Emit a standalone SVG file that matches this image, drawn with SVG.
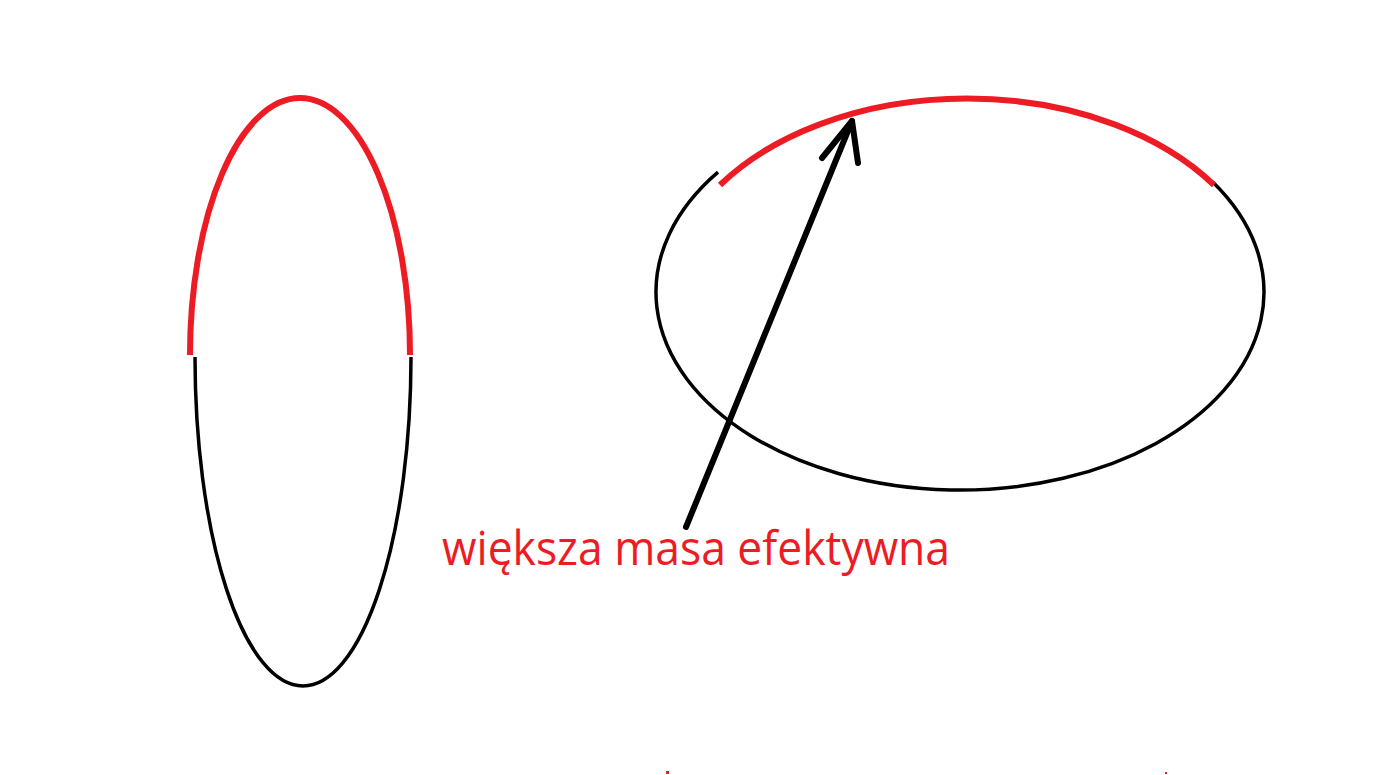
<svg xmlns="http://www.w3.org/2000/svg" width="1398" height="775" viewBox="0 0 1398 775">
<style>
.blk{fill:none;stroke:#000;stroke-width:3.5}
.red{fill:none;stroke:#ed1c24;stroke-width:6}
.arr{fill:none;stroke:#000;stroke-width:6;stroke-linecap:round;stroke-linejoin:round}
.lbl{font-family:"Open Sans","Noto Sans","Liberation Sans",sans-serif;font-size:47px;fill:#ed1c24}
</style>
<rect width="1398" height="775" fill="#fff"/>
<g id="ellipse-left">
<path class="blk" d="M195 357 A108 329 0 0 0 411 357"/>
<path class="red" d="M190 355 A110 257 0 0 1 410 355"/>
</g>
<g id="ellipse-right">
<path class="blk" d="M718 172.2 A304 198 0 1 0 1213 182.3"/>
<path class="red" d="M720 185 A300 200 0 0 1 1214 185"/>
</g>
<g id="connectors">
<line class="arr" x1="686" y1="527" x2="852" y2="121"/>
<polyline class="arr" points="822,158 852,121 858,163"/>
</g>
<g id="label">
<text class="lbl" x="442" y="565" textLength="508" lengthAdjust="spacingAndGlyphs">większa masa efektywna</text>
</g>
<g id="marks">
<rect x="666" y="771" width="3" height="3" fill="#ed1c24"/>
<rect x="1165" y="772" width="2" height="2" fill="#ed1c24"/>
</g>
</svg>
